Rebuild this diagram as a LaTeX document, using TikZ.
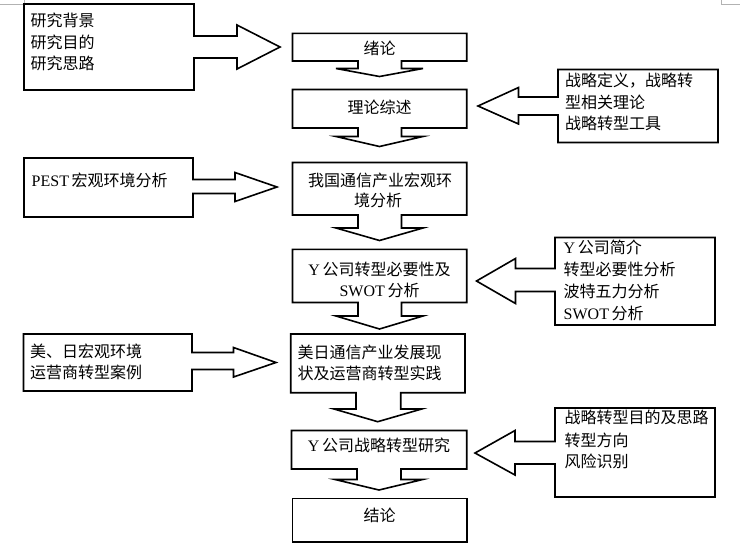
\documentclass[tikz,border=0pt]{standalone}
\usepackage{fontspec}
\setmainfont{Noto Sans CJK SC}
\newfontfamily\latf{Liberation Serif}
\newcommand{\La}[1]{{\latf #1}}
\begin{document}
\begin{tikzpicture}[x=1pt,y=-1pt]
\tikzset{
  shapeline/.style={draw=black, line width=1.6pt, line join=miter, fill=white},
  cropmark/.style={draw=black!30, line width=0.8pt},
  ltxt/.style={inner sep=0pt, anchor=west, text height=14pt, text depth=2pt, font=\fontsize{16}{20}\selectfont},
  ctxt/.style={inner sep=0pt, anchor=center, text height=14pt, text depth=2pt, font=\fontsize{16}{20}\selectfont}
}
\useasboundingbox (0,0) rectangle (740,558);
\fill[white] (0,0) rectangle (740,558);

% crop marks
\draw[cropmark] (0,4) -- (24,4) -- (24,0);
\draw[cropmark] (721,0) -- (721,4) -- (740,4);

% ---------- left callouts (arrow pointing right) ----------
\draw[shapeline] (24,4) -- (194,4) -- (194,36) -- (237,36) -- (237,25) -- (280,47) -- (237,69) -- (237,58) -- (194,58) -- (194,90) -- (24,90) -- cycle;
\draw[shapeline] (24,158) -- (193,158) -- (193,179.5) -- (235,179.5) -- (235,172.5) -- (277,187) -- (235,201.5) -- (235,193.5) -- (193,193.5) -- (193,217) -- (24,217) -- cycle;
\draw[shapeline] (23.5,334) -- (192,334) -- (192,352.5) -- (233.5,352.5) -- (233.5,347.5) -- (276,362.5) -- (233.5,377) -- (233.5,369.5) -- (192,369.5) -- (192,391) -- (23.5,391) -- cycle;

% ---------- right callouts (arrow pointing left) ----------
\draw[shapeline] (558,69.5) -- (718,69.5) -- (718,142.5) -- (558,142.5) -- (558,115) -- (518.5,115) -- (518.5,124) -- (478,106) -- (518.5,87.5) -- (518.5,97) -- (558,97) -- cycle;
\draw[shapeline] (555,237.5) -- (715,237.5) -- (715,325) -- (555,325) -- (555,291.5) -- (515.5,291.5) -- (515.5,303.5) -- (476.5,281) -- (515.5,258.5) -- (515.5,268.5) -- (555,268.5) -- cycle;
\draw[shapeline] (555,408) -- (715,408) -- (715,497) -- (555,497) -- (555,464) -- (515,464) -- (515,475) -- (475,453) -- (515,430.5) -- (515,441.5) -- (555,441.5) -- cycle;

% ---------- central down-arrow callouts ----------
\draw[shapeline] (292.5,33.3) -- (466.7,33.3) -- (466.7,61) -- (401.5,61) -- (401.5,68.5) -- (423,68.5) -- (379.5,76.5) -- (336,68.5) -- (358,68.5) -- (358,61) -- (292.5,61) -- cycle;
\draw[shapeline] (292.5,89.5) -- (466.7,89.5) -- (466.7,128) -- (401.5,128) -- (401.5,136.5) -- (423,136.5) -- (379.5,146.5) -- (336,136.5) -- (358,136.5) -- (358,128) -- (292.5,128) -- cycle;
\draw[shapeline] (292.5,162.5) -- (466.7,162.5) -- (466.7,215) -- (401.5,215) -- (401.5,228) -- (423,228) -- (379.5,240.5) -- (336,228) -- (358,228) -- (358,215) -- (292.5,215) -- cycle;
\draw[shapeline] (292.5,249.3) -- (466.7,249.3) -- (466.7,302.5) -- (401.5,302.5) -- (401.5,316) -- (423,316) -- (379.5,329) -- (336,316) -- (358,316) -- (358,302.5) -- (292.5,302.5) -- cycle;
\draw[shapeline] (290.7,334) -- (465,334) -- (465,392.7) -- (400.7,392.7) -- (400.7,409) -- (421.7,409) -- (377.7,421.7) -- (334,409) -- (356,409) -- (356,392.7) -- (290.7,392.7) -- cycle;
\draw[shapeline] (291.5,430.5) -- (466.7,430.5) -- (466.7,469) -- (401,469) -- (401,479.5) -- (422.7,479.5) -- (379,490) -- (335,479.5) -- (357,479.5) -- (357,469) -- (291.5,469) -- cycle;
\draw[shapeline] (292.5,498.3) rectangle (466.7,541.7);

% ---------- texts: left boxes ----------
\node[ltxt] (l1a) at (30.5,20) {研究背景};
\node[ltxt] (l1b) at (30.5,42) {研究目的};
\node[ltxt] (l1c) at (30.5,63.5) {研究思路};
\node[ltxt] (l2a) at (31.5,180) {\La{PEST}\,宏观环境分析};
\node[ltxt] (l3a) at (30,351) {美、日宏观环境};
\node[ltxt] (l3b) at (30,372) {运营商转型案例};

% ---------- texts: right boxes ----------
\node[ltxt] (r1a) at (565,80) {战略定义，战略转};
\node[ltxt] (r1b) at (565,102.5) {型相关理论};
\node[ltxt] (r1c) at (565,123.5) {战略转型工具};
\node[ltxt] (r2a) at (563.5,247) {\La{Y}\,公司简介};
\node[ltxt] (r2b) at (563.5,269) {转型必要性分析};
\node[ltxt] (r2c) at (563.5,291) {波特五力分析};
\node[ltxt] (r2d) at (563.5,313) {\La{SWOT}\,分析};
\node[ltxt] (r3a) at (564.5,417) {战略转型目的及思路};
\node[ltxt] (r3b) at (564.5,440) {转型方向};
\node[ltxt] (r3c) at (564.5,461.5) {风险识别};

% ---------- texts: central column ----------
\node[ctxt] (c1) at (379.5,48.5) {绪论};
\node[ctxt] (c2) at (379.5,107) {理论综述};
\node[ctxt] (c3a) at (380,180) {我国通信产业宏观环};
\node[ctxt] (c3b) at (378,200) {境分析};
\node[ctxt] (c4a) at (379.5,269) {\La{Y}\,公司转型必要性及};
\node[ctxt] (c4b) at (379.5,290) {\La{SWOT}\,分析};
\node[ltxt] (c5a) at (297.5,352) {美日通信产业发展现};
\node[ltxt] (c5b) at (297.5,373) {状及运营商转型实践};
\node[ctxt] (c6) at (379,445) {\La{Y}\,公司战略转型研究};
\node[ctxt] (c7) at (379.5,515) {结论};
\end{tikzpicture}
\end{document}
